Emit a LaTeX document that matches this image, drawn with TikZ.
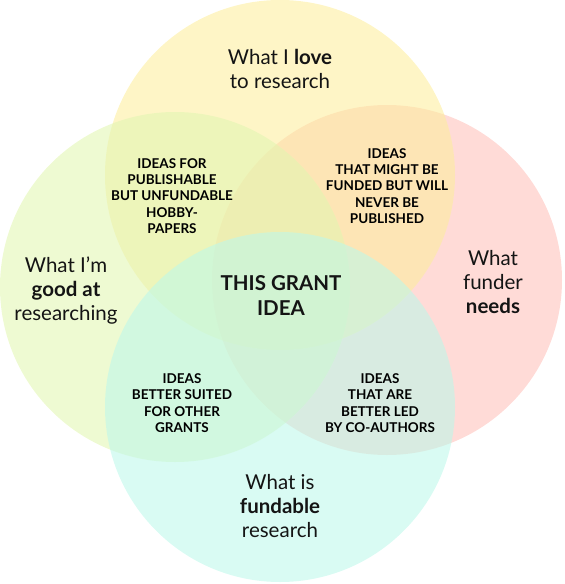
\documentclass[tikz,border=0pt]{standalone}
\usepackage{fontspec}
\setmainfont{Lato}
\usepackage{tikz}
\usetikzlibrary{positioning}
\usepackage{xcolor}

\definecolor{loveyellow}{HTML}{FDEE9D}
\definecolor{goodgreen}{HTML}{E2F6B1}
\definecolor{funderpink}{HTML}{FFC1BA}
\definecolor{fundmint}{HTML}{BDF8EA}

\tikzset{
  setcircle/.style={fill=#1,fill opacity=0.58,draw=none},
  biglabel/.style={align=center,text=black!92,font=\fontsize{20.5}{24}\selectfont},
  smalllabel/.style={align=center,text=black,font=\fontsize{13.5}{16.3}\selectfont\bfseries},
}

\begin{document}
\begin{tikzpicture}[x=1pt,y=-1pt]
    \useasboundingbox (0,0) rectangle (565,584);
    % the four sets
    \fill[setcircle=funderpink] (387,280) circle[radius=175pt];
    \fill[setcircle=loveyellow] (280,175) circle[radius=175pt];
    \fill[setcircle=goodgreen] (175,287) circle[radius=175pt];
    \fill[setcircle=fundmint] (280,407) circle[radius=175pt];

    % set labels
    \node[biglabel] (love) at (280,69) {What I \textbf{love}\\to research};
    \node[biglabel] (good) at (66,291) {What I’m\\\textbf{good at}\\researching};
    \node[biglabel] (needs) at (493,282) {What\\funder\\\textbf{needs}};
    \node[biglabel] (fundable) at (280,506) {What is\\\textbf{fundable}\\research};

    % overlaps
    \node[smalllabel] (hobby) at (172,196) {IDEAS FOR\\PUBLISHABLE\\BUT UNFUNDABLE\\HOBBY-\\PAPERS};
    \node[smalllabel] (unpub) at (387,186) {IDEAS\\THAT MIGHT BE\\FUNDED BUT WILL\\NEVER BE\\PUBLISHED};
    \node[smalllabel] (other) at (182,403) {IDEAS\\BETTER SUITED\\FOR OTHER\\GRANTS};
    \node[smalllabel] (coauth) at (380,403) {IDEAS\\THAT ARE\\BETTER LED\\BY CO-AUTHORS};
    \node[biglabel,font=\fontsize{20.5}{25}\selectfont\bfseries] (grant) at (281,296) {THIS GRANT\\IDEA};
\end{tikzpicture}
\end{document}
